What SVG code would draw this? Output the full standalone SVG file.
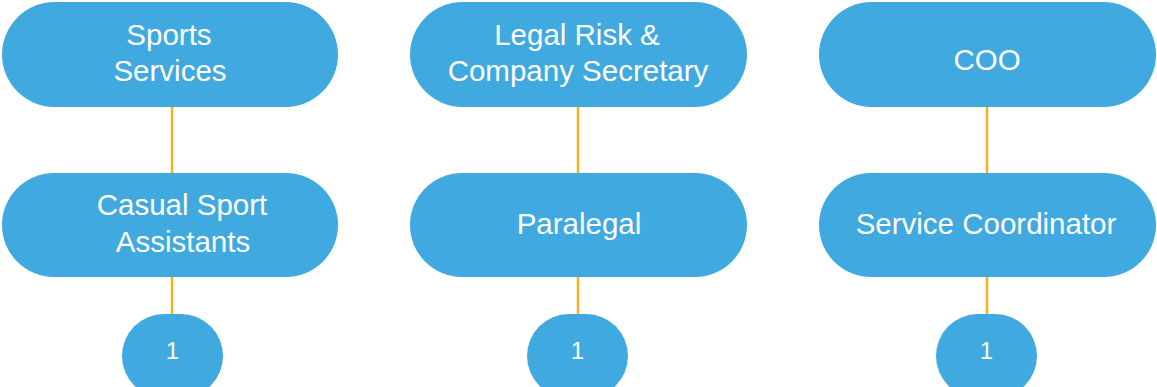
<svg xmlns="http://www.w3.org/2000/svg" width="1157" height="387" viewBox="0 0 1157 387">
<style>
.n{fill:#3FA9E0;}
.t{fill:#FFFFFF;font-family:"Liberation Sans",Arial,sans-serif;font-size:29.5px;text-anchor:middle;}
.s{fill:#FFFFFF;font-family:"Liberation Sans",Arial,sans-serif;font-size:24px;text-anchor:middle;}
.c{stroke:#F5B120;stroke-width:2.5;fill:none;}
</style>
<rect width="1157" height="387" fill="#FFFFFF"/>
<g id="connectors">
<line class="c" x1="172" y1="107" x2="172" y2="173"/>
<line class="c" x1="172" y1="277" x2="172" y2="314"/>
<line class="c" x1="578" y1="107" x2="578" y2="173"/>
<line class="c" x1="578" y1="277" x2="578" y2="314"/>
<line class="c" x1="987" y1="107" x2="987" y2="173"/>
<line class="c" x1="987" y1="277" x2="987" y2="314"/>
</g>
<g id="sports-services">
<rect class="n" x="2" y="2" width="336" height="105" rx="52.5"/>
<text class="t" x="169" y="45">Sports</text>
<text class="t" x="170" y="81">Services</text>
</g>
<g id="casual-sport-assistants">
<rect class="n" x="2" y="173" width="336" height="104" rx="52"/>
<text class="t" x="182" y="215">Casual Sport</text>
<text class="t" x="183" y="252">Assistants</text>
</g>
<g id="count-1">
<rect class="n" x="122" y="314" width="101" height="84" rx="42"/>
<text class="s" x="172.5" y="359">1</text>
</g>
<g id="legal-risk">
<rect class="n" x="410" y="2" width="337" height="105" rx="52.5"/>
<text class="t" x="577" y="45">Legal Risk &amp;</text>
<text class="t" x="578" y="81">Company Secretary</text>
</g>
<g id="paralegal">
<rect class="n" x="410" y="173" width="337" height="104" rx="52"/>
<text class="t" x="579" y="234">Paralegal</text>
</g>
<g id="count-2">
<rect class="n" x="527" y="314" width="101" height="84" rx="42"/>
<text class="s" x="577.5" y="359">1</text>
</g>
<g id="coo">
<rect class="n" x="819" y="2" width="337" height="105" rx="52.5"/>
<text class="t" x="987" y="70">COO</text>
</g>
<g id="service-coordinator">
<rect class="n" x="819" y="173" width="337" height="104" rx="52"/>
<text class="t" x="986" y="234">Service Coordinator</text>
</g>
<g id="count-3">
<rect class="n" x="936" y="314" width="101" height="84" rx="42"/>
<text class="s" x="986.5" y="359">1</text>
</g>
</svg>
